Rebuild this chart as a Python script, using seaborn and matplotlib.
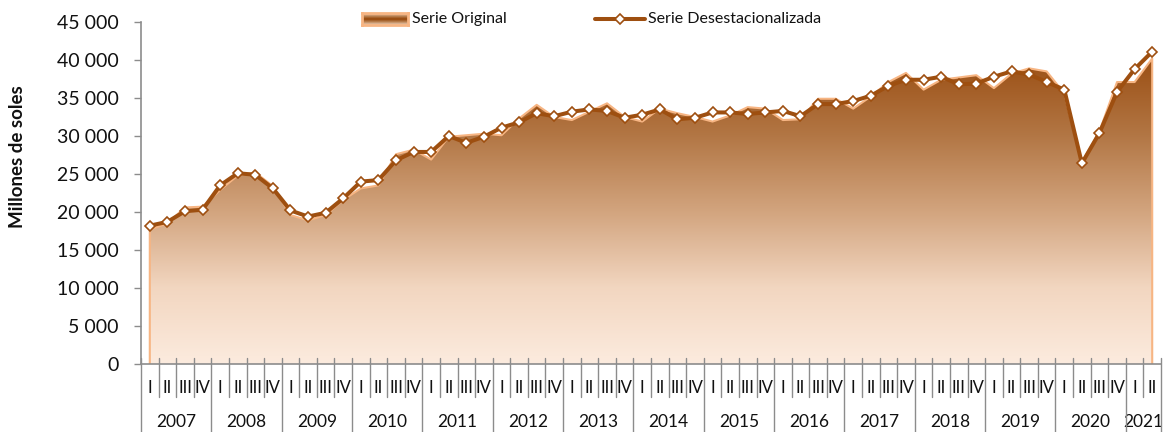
import numpy as np
import pandas as pd
import matplotlib
matplotlib.use("Agg")
import matplotlib.pyplot as plt
import matplotlib.transforms as mtransforms
import seaborn as sns
from matplotlib.colors import LinearSegmentedColormap

years = [str(y) for y in range(2007, 2022)]
quarters = ["I", "II", "III", "IV"]

original = [17700, 18500, 20600, 20700, 22900, 24800, 25200, 23400,
            19600, 18900, 19600, 21600, 23100, 23500, 27600, 28200,
            26900, 29900, 30100, 30300, 30100, 32300, 34100, 32500,
            32100, 33200, 34300, 32500, 31900, 33600, 33000, 32500,
            31900, 32700, 33800, 33600, 32100, 32200, 34900, 34900,
            33600, 35200, 37100, 38300, 36100, 37400, 37700, 38000,
            36300, 38200, 38900, 38500, 35600, 26600, 30600, 37100,
            37100, 40200]

desest = [18200, 18700, 20100, 20300, 23500, 25100, 24900, 23100,
          20200, 19400, 19900, 21800, 24000, 24200, 26800, 27900,
          27900, 30000, 29100, 29900, 31100, 31800, 33000, 32600,
          33200, 33500, 33300, 32400, 32800, 33500, 32200, 32400,
          33100, 33100, 32900, 33100, 33300, 32600, 34200, 34200,
          34600, 35300, 36600, 37400, 37400, 37800, 36800, 36900,
          37800, 38500, 38100, 37100, 36100, 26400, 30400, 35800,
          38800, 41100]

yticks = list(range(0, 45001, 5000))

n = len(desest)
df = pd.DataFrame({"idx": np.arange(n), "original": original, "desest": desest,
                   "quarter": [quarters[i % 4] for i in range(n)],
                   "year": [years[i // 4] for i in range(n)]})

sns.set_theme(style="white")
plt.rcParams['font.family'] = ['Lato', 'DejaVu Sans']

W, H = 1174, 432
fig = plt.figure(figsize=(W / 100, H / 100), dpi=100)
x0, x1, ytop, ybot = 141, 1161, 22, 364
ax = fig.add_axes([x0 / W, (H - ybot) / H, (x1 - x0) / W, (ybot - ytop) / H])

LINE = '#9E4F10'
PEACH = '#F7B583'
GRAY = '#8C8C8C'
TXT = '#111111'

# gradient area (Serie Original)
poly = ax.fill_between(df.idx, 0, df.original, facecolor='none', edgecolor='none')
cmap = LinearSegmentedColormap.from_list(
    "g", [(0, '#FCEBDE'), (0.25, '#F2D6C0'), (0.5, '#D2A47E'), (0.75, '#B27644'), (1, '#9B4F14')])
grad = np.linspace(0, 1, 256).reshape(-1, 1)
top = max(original)
im = ax.imshow(grad, extent=[0, n - 1, 0, top], origin='lower', aspect='auto', cmap=cmap, zorder=1)
im.set_clip_path(poly.get_paths()[0], transform=ax.transData)
ax.plot([0] + list(df.idx) + [n - 1], [0] + list(df.original) + [0], color=PEACH, lw=1.5, zorder=2)

# seasonally adjusted line
sns.lineplot(data=df, x='idx', y='desest', color=LINE, lw=2.9, marker='D', markersize=5.3,
             markerfacecolor='white', markeredgecolor=LINE, markeredgewidth=1.2, ax=ax, zorder=3)

ax.set_xlim(-0.5, n - 0.5)
ax.set_ylim(0, 45000)
ax.set_yticks(yticks)
ax.set_yticklabels([f"{v:,}".replace(",", " ") for v in yticks], fontsize=14, color=TXT)
ax.set_xticks([])
ax.set_xlabel("")
ax.set_ylabel("")
ax.tick_params(axis='y', left=True, length=5, width=1, color=GRAY, pad=11)
for s in ['top', 'right']:
    ax.spines[s].set_visible(False)
for s in ['left', 'bottom']:
    ax.spines[s].set_color(GRAY)
    ax.spines[s].set_linewidth(1.2)

trans = mtransforms.blended_transform_factory(ax.transData, ax.transAxes)
span = ybot - ytop
def fy(py):
    return (ybot - py) / span

for k in range(n + 1):
    xb = k - 0.5
    low = 432 if (k % 4 == 0 or k == n) else 397
    ax.plot([xb, xb], [fy(358), fy(low)], transform=trans, color=GRAY, lw=1, clip_on=False, zorder=4)

for i in range(n):
    ax.text(i, fy(388), df.quarter[i], transform=trans, ha='center', va='center',
            fontsize=12, color=TXT)
for y in years:
    idxs = df.idx[df.year == y]
    ax.text(idxs.mean(), fy(422), y, transform=trans, ha='center', va='center',
            fontsize=12.5, color=TXT)

fig.text(18 / W, 1 - 157 / H, "Millones de soles", rotation=90, fontweight='bold',
         fontsize=13.5, ha='center', va='center', color=TXT)

# legend
lax = fig.add_axes([362 / W, 1 - 25 / H, 46 / W, 12 / H])
lgrad = np.concatenate([np.linspace(0.3, 1, 6), np.linspace(1, 0.3, 6)]).reshape(-1, 1)
lax.imshow(lgrad, aspect='auto', cmap=cmap, vmin=0, vmax=1, extent=[0, 1, 0, 1])
lax.set_xticks([]); lax.set_yticks([])
for s in lax.spines.values():
    s.set_color(PEACH); s.set_linewidth(2)
fig.text(412 / W, 1 - 19 / H, "Serie Original", fontsize=11.5, ha='left', va='center', color=TXT)

fig.add_artist(plt.Line2D([595 / W, 645 / W], [1 - 19 / H, 1 - 19 / H], color=LINE, lw=2.9,
                          transform=fig.transFigure))
fig.add_artist(plt.Line2D([620 / W], [1 - 19 / H], color=LINE, marker='D', markersize=5.3,
                          markerfacecolor='white', markeredgecolor=LINE, markeredgewidth=1.2,
                          transform=fig.transFigure))
fig.text(648 / W, 1 - 19 / H, "Serie Desestacionalizada", fontsize=11.5, ha='left', va='center',
         color=TXT)

fig.savefig("out.png", dpi=100)
